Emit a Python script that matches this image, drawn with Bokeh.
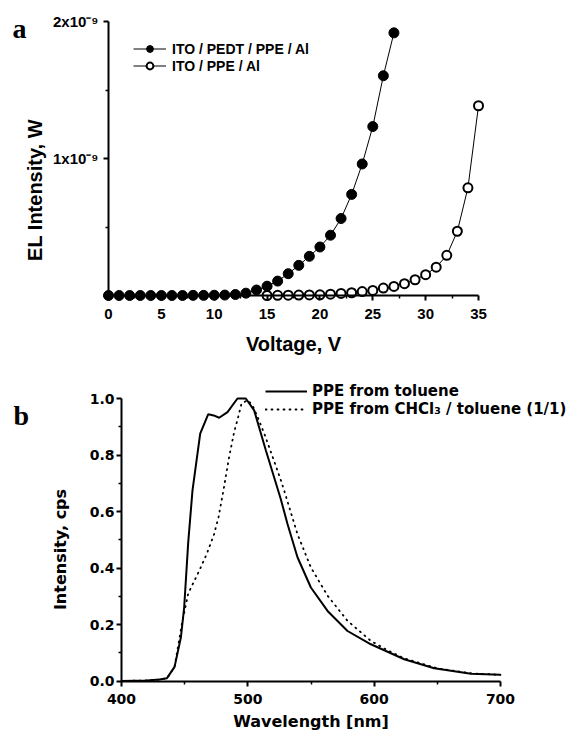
import math
from bokeh.plotting import figure
from bokeh.models import (ColumnDataSource, Range1d, FixedTicker, Legend, LegendItem,
                          Label, NumeralTickFormatter)
from bokeh.layouts import column
from bokeh.embed import file_html
from bokeh.resources import INLINE

# ---------------- Panel a data (EL intensity in units of 1e-9 W) ----------------
volt_pedt = [0, 1, 2, 3, 4, 5, 6, 7, 8, 9, 10, 11, 12, 13, 14, 15, 16, 17, 18, 19,
             20, 21, 22, 23, 24, 25, 26, 27]
el_pedt = [0.000, 0.000, 0.000, 0.000, 0.000, 0.000, 0.000, 0.000, 0.001, 0.001,
           0.002, 0.003, 0.007, 0.017, 0.040, 0.068, 0.105, 0.159, 0.220, 0.286,
           0.354, 0.440, 0.562, 0.738, 0.960, 1.233, 1.604, 1.917]
volt_ppe = [15, 16, 17, 18, 19, 20, 21, 22, 23, 24, 25, 26, 27, 28, 29, 30, 31, 32,
            33, 34, 35]
el_ppe = [0.000, 0.001, 0.002, 0.003, 0.004, 0.005, 0.010, 0.015, 0.020, 0.029,
          0.037, 0.054, 0.066, 0.086, 0.115, 0.152, 0.207, 0.293, 0.469, 0.786, 1.385]
label_pedt = "ITO / PEDT / PPE / Al"
label_ppe = "ITO / PPE / Al"
xa_ticks = [0, 5, 10, 15, 20, 25, 30, 35]
xa_minor = [2.5, 7.5, 12.5, 17.5, 22.5, 27.5, 32.5]
ya_ticks = [0, 1, 2]
ya_minor = [0.5, 1.5]
ya_tick_labels = {0: "", 1: "1x10\u207b\u2079", 2: "2x10\u207b\u2079"}

# ---------------- Panel b data (PL spectra) ----------------
wl_tol = [400, 420, 430, 436, 442, 447, 449.6, 452.8, 456.2, 462.3, 468.6, 473,
          477.3, 483.9, 491.8, 498.4, 505, 514.3, 526, 531.4, 539.3, 549.9, 563.1,
          578.9, 597.4, 623.8, 647.5, 676.6, 700]
int_tol = [0.0, 0.002, 0.005, 0.01, 0.05, 0.154, 0.26, 0.49, 0.675, 0.876, 0.944,
           0.94, 0.932, 0.952, 1.0, 1.0, 0.958, 0.816, 0.645, 0.556, 0.438, 0.331,
           0.248, 0.177, 0.130, 0.077, 0.045, 0.026, 0.022]
wl_chcl3 = [400, 420, 430, 436, 442, 447.7, 452.8, 461.5, 467.5, 473.3, 476.8, 480.7,
            485.2, 489.2, 492.4, 495.0, 499.8, 503.7, 507.7, 513.0, 518.3, 526.2,
            528.7, 539.3, 549.9, 563.1, 578.9, 597.4, 610, 623.8, 650, 677, 700]
int_chcl3 = [0.0, 0.002, 0.005, 0.01, 0.05, 0.20, 0.31, 0.39, 0.45, 0.52, 0.58, 0.675,
             0.793, 0.882, 0.935, 0.982, 0.994, 0.976, 0.935, 0.876, 0.81, 0.71,
             0.675, 0.52, 0.402, 0.302, 0.213, 0.142, 0.11, 0.08, 0.045, 0.027, 0.022]
label_tol = "PPE from toluene"
label_chcl3 = "PPE from CHCl\u2083 / toluene (1/1)"
xb_ticks = [400, 500, 600, 700]
xb_minor = [450, 550, 650]
yb_ticks = [0.0, 0.2, 0.4, 0.6, 0.8, 1.0]
yb_minor = [0.1, 0.3, 0.5, 0.7, 0.9]

SANS = "Liberation Sans"
WIDE = "DejaVu Sans"
SERIF = "Liberation Serif"

W = 574
HA = 360
HB = 372
PAGE_H = HA + HB


def span(v0, p0, v1, p1, lo, hi):
    """Range whose values v0, v1 fall at canvas pixels p0, p1 of a canvas lo..hi."""
    k = (v1 - v0) / (p1 - p0)
    return Range1d(v0 + (lo - p0) * k, v0 + (hi - p0) * k)


def style_axis(ax, font, size, standoff):
    ax.axis_line_width = 2
    ax.axis_line_color = "black"
    ax.major_tick_line_width = 2
    ax.minor_tick_line_width = 1.5
    ax.major_tick_out = 5
    ax.major_tick_in = 0
    ax.minor_tick_out = 3
    ax.minor_tick_in = 0
    ax.major_label_text_font = font
    ax.major_label_text_font_style = "bold"
    ax.major_label_text_font_size = size
    ax.major_label_text_color = "black"
    ax.major_label_standoff = standoff


# ================= Panel a =================
# canvas pixels (from top-left): x=0 at 108, x=35 at 478; y=2 at 21, y=0 at 295
pa = figure(width=W, height=HA, output_backend="svg", toolbar_location=None,
            x_range=span(0, 108, 35, 478, 0, W),
            y_range=span(2, HA - 21, 0, HA - 295, 0, HA),
            min_border=0, min_border_left=0, min_border_right=0,
            min_border_top=0, min_border_bottom=0)
pa.outline_line_color = None
pa.grid.visible = False

src_a1 = ColumnDataSource(dict(v=volt_pedt, el=el_pedt))
src_a2 = ColumnDataSource(dict(v=volt_ppe, el=el_ppe))
l1 = pa.line("v", "el", source=src_a1, line_color="black", line_width=1)
s1 = pa.scatter("v", "el", source=src_a1, marker="circle", size=10,
                fill_color="black", line_color="black")
l2 = pa.line("v", "el", source=src_a2, line_color="black", line_width=1)
s2 = pa.scatter("v", "el", source=src_a2, marker="circle", size=9,
                fill_color="white", line_color="black", line_width=2)

xa = pa.xaxis[0]
ya = pa.yaxis[0]
xa.fixed_location = 0
ya.fixed_location = 0
xa.ticker = FixedTicker(ticks=xa_ticks, minor_ticks=xa_minor)
ya.ticker = FixedTicker(ticks=ya_ticks, minor_ticks=ya_minor)
ya.major_label_overrides = ya_tick_labels
xa.bounds = (xa_ticks[0], xa_ticks[-1])
ya.bounds = (ya_ticks[0], ya_ticks[-1])
style_axis(xa, SANS, "15px", 8)
style_axis(ya, SANS, "15px", 5)
xa.axis_label = "Voltage, V"
xa.axis_label_text_font = SANS
xa.axis_label_text_font_style = "bold"
xa.axis_label_text_font_size = "20px"
xa.axis_label_standoff = 11
xa.axis_label_text_color = "black"

pa.add_layout(Label(x=34, y=HA - 189.5, x_units="screen", y_units="screen",
                    text="EL Intensity, W", angle=math.pi / 2, text_align="center",
                    text_baseline="middle", text_font=SANS, text_font_style="bold",
                    text_font_size="20px", text_color="black"))
pa.add_layout(Label(x=12, y=HA - 28, x_units="screen", y_units="screen", text="a",
                    text_font=SERIF, text_font_style="bold", text_font_size="28px",
                    text_baseline="alphabetic", text_color="black"))

leg_a = Legend(items=[LegendItem(label=label_pedt, renderers=[l1, s1]),
                      LegendItem(label=label_ppe, renderers=[l2, s2])],
               location=(133, HA - 74), padding=0, margin=0, spacing=0,
               glyph_width=33, glyph_height=17, label_height=17, label_standoff=6,
               border_line_color=None, background_fill_alpha=0,
               label_text_font=SANS, label_text_font_style="bold",
               label_text_font_size="14px", label_text_color="black")
pa.add_layout(leg_a)

# ================= Panel b =================
# page pixels: 400 at 121, 700 at 500; y=1 at 398, y=0 at 680.5 (panel starts at HA)
pb = figure(width=W, height=HB, output_backend="svg", toolbar_location=None,
            x_range=span(400, 121, 700, 500, 0, W),
            y_range=span(1.0, PAGE_H - 398, 0.0, PAGE_H - 680.5, 0, HB),
            min_border=0, min_border_left=0, min_border_right=0,
            min_border_top=0, min_border_bottom=0)
pb.outline_line_color = None
pb.grid.visible = False

src_b1 = ColumnDataSource(dict(wl=wl_tol, i=int_tol))
src_b2 = ColumnDataSource(dict(wl=wl_chcl3, i=int_chcl3))
lb2 = pb.line("wl", "i", source=src_b2, line_color="black", line_width=1.8,
              line_dash="1 5", line_cap="round")
lb1 = pb.line("wl", "i", source=src_b1, line_color="black", line_width=2)

xb = pb.xaxis[0]
yb = pb.yaxis[0]
xb.fixed_location = 0
yb.fixed_location = 400
xb.ticker = FixedTicker(ticks=xb_ticks, minor_ticks=xb_minor)
yb.ticker = FixedTicker(ticks=yb_ticks, minor_ticks=yb_minor)
yb.formatter = NumeralTickFormatter(format="0.0")
xb.bounds = (xb_ticks[0], xb_ticks[-1])
yb.bounds = (yb_ticks[0], yb_ticks[-1])
style_axis(xb, WIDE, "14px", 8)
style_axis(yb, WIDE, "14px", 2)
xb.axis_label = "Wavelength [nm]"
xb.axis_label_text_font = WIDE
xb.axis_label_text_font_style = "bold"
xb.axis_label_text_font_size = "16px"
xb.axis_label_standoff = 4
xb.axis_label_text_color = "black"

pb.add_layout(Label(x=60, y=PAGE_H - 549, x_units="screen", y_units="screen",
                    text="Intensity, cps", angle=math.pi / 2, text_align="center",
                    text_baseline="middle", text_font=WIDE, text_font_style="bold",
                    text_font_size="16px", text_color="black"))
pb.add_layout(Label(x=13, y=PAGE_H - 415, x_units="screen", y_units="screen", text="b",
                    text_font=SERIF, text_font_style="bold", text_font_size="28px",
                    text_baseline="alphabetic", text_color="black"))

leg_b = Legend(items=[LegendItem(label=label_tol, renderers=[lb1]),
                      LegendItem(label=label_chcl3, renderers=[lb2])],
               location=(265, PAGE_H - 418), padding=0, margin=0, spacing=0,
               glyph_width=42, glyph_height=18, label_height=18, label_standoff=5,
               border_line_color=None, background_fill_alpha=0,
               label_text_font=WIDE, label_text_font_style="bold",
               label_text_font_size="15px", label_text_color="black")
pb.add_layout(leg_b)

layout = column(pa, pb, spacing=0)
open("out.html", "w").write(file_html(layout, INLINE))
